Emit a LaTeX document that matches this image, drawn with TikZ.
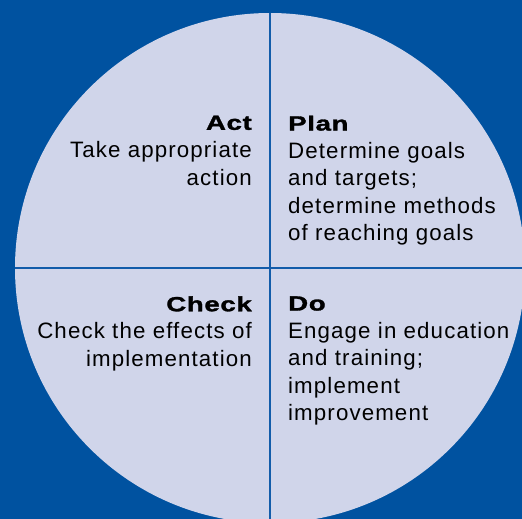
\documentclass[tikz,border=0pt]{standalone}
\usepackage{fontspec}
\setmainfont{Liberation Sans}[LetterSpace=5]
\newfontfamily\headfont{Liberation Sans}[LetterSpace=3,FakeStretch=1.35,FakeBold=1.5]
\newcommand{\quadtitle}[1]{{\headfont\bfseries\fontsize{20.5}{27.6}\selectfont #1}}
\usetikzlibrary{positioning}
\definecolor{pdcablue}{RGB}{0,82,160}
\definecolor{pdcafill}{RGB}{208,213,234}
\definecolor{pdcaline}{RGB}{18,92,170}

\begin{document}
\begin{tikzpicture}[x=1pt,y=-1pt,
	quadrant/.style={inner sep=0pt,font=\fontsize{22.3}{27.6}\selectfont},
	leftq/.style={quadrant,align=right,anchor=north east},
	rightq/.style={quadrant,align=left,anchor=north west}]
	\fill[pdcablue] (0,0) rectangle (522,519);
	\useasboundingbox (0,0) rectangle (522,519);
	\node(wheel) [circle,fill=pdcafill,minimum size=510pt,inner sep=0pt] at (270,268) {};
	\draw[pdcaline,line width=2pt](wheel.north) --(wheel.south);
	\draw[pdcaline,line width=2pt](wheel.west) --(wheel.east);
	
	\node(act) [leftq] at (252,115.5) {\quadtitle{Act}\\Take appropriate\\action};
	\node(plan) [rightq] at (288,115.5) {\quadtitle{Plan}\\Determine goals\\and targets;\\determine methods\\of reaching goals};
	\node(check) [leftq] at (252,296.2) {\quadtitle{Check}\\Check the effects of\\implementation};
	\node(do) [rightq] at (288,296.2) {\quadtitle{Do}\\Engage in education\\and training;\\implement\\improvement};
	
\end{tikzpicture}
\end{document}
